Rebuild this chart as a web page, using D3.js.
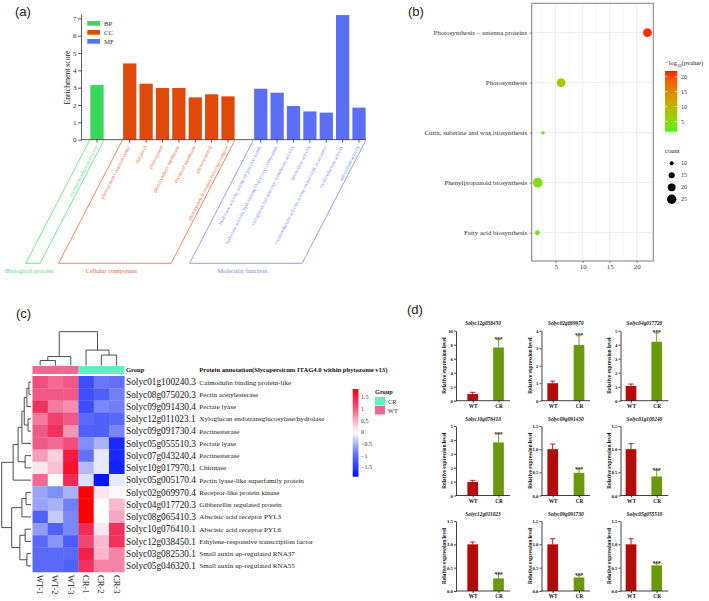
<!DOCTYPE html>
<html><head><meta charset="utf-8">
<script src="https://cdn.jsdelivr.net/npm/d3@7"></script>
<style>body{margin:0;background:#fff}svg{display:block}</style>
</head><body><svg id="fig" width="709" height="601"></svg>
<script>
// ================= DATA =================
// (a) GO enrichment
const goTerms = ["oxidation-reduction process",
 "photosystem I reaction center","thylakoid","photosystem","photosynthetic membrane","thylakoid membrane","photosystem II","photosystem II oxygen evolving complex",
 "hydrolase activity, acting on glycosyl bonds","hydrolase activity, hydrolyzing O-glycosyl compounds","xyloglucan:xyloglucosyl transferase activity","peroxidase activity","oxidoreductase activity, acting on peroxide as acceptor","oxidoreductase activity","antioxidant activity"];
const goCategory = ["BP","CC","CC","CC","CC","CC","CC","CC","MF","MF","MF","MF","MF","MF","MF"];
const goScore = [3.15,4.4,3.23,2.98,2.98,2.44,2.62,2.5,2.94,2.71,1.94,1.63,1.56,7.19,1.85];
const goCatKeys = ["BP","CC","MF"];
const goCatNames = ["Biological process","Cellular component","Molecular function"];
const goTicks = [0,1,2,3,4,5,6,7];

// (b) KEGG bubble
const keggTerms = ["Photosynthesis \u2013 antenna proteins","Photosynthesis","Cutin, suberine and wax biosynthesis","Phenylpropanoid biosynthesis","Fatty acid biosynthesis"];
const keggX = [22.0, 6.0, 2.65, 1.66, 1.6];
const keggLogP = [21.3, 7.0, 3.2, 4.5, 3.0];
const keggCount = [23, 23, 9, 26, 12];
const keggXTicks = [5,10,15,20];
const pvalTicks = [5,10,15,20];
const countTicks = [10,15,20,25];

// (c) heatmap
const geneIds = ["Solyc01g100240.3","Solyc08g075020.3","Solyc09g091430.4","Solyc12g011023.1","Solyc09g091730.4","Solyc05g055510.3","Solyc07g043240.4","Solyc10g017970.1","Solyc05g005170.4","Solyc02g069970.4","Solyc04g017720.3","Solyc08g065410.3","Solyc10g076410.1","Solyc12g038450.1","Solyc03g082530.1","Solyc05g046320.1"];
const geneAnno = ["Calmodulin binding protein-like","Pectin acetylesterase","Pectate lyase","Xyloglucan endotransglucosylase/hydrolase","Pectinesterase","Pectate lyase","Pectinesterase","Chitinase","Pectin lyase-like superfamily protein","Receptor-like protein kinase","Gibberellin regulated protein","Abscisic acid receptor PYL3","Abscisic acid receptor PYL6","Ethylene-responsive transcription factor","Small auxin up-regulated RNA37","Small auxin up-regulated RNA55"];
const sampleNames = ["WT-1","WT-2","WT-3","CR-1","CR-2","CR-3"];
const sampleGroup = ["WT","WT","WT","CR","CR","CR"];
const zScores = [
 [1.1, 0.9, 1.0, -1.3, -0.9, -0.95],
 [1.0, 1.0, 1.0, -1.3, -1.1, -0.85],
 [1.35, 0.8, 0.7, -1.3, -0.8, -0.85],
 [0.8, 1.2, 1.0, -1.0, -1.1, -1.0],
 [1.0, 1.35, 0.65, -1.1, -1.1, -0.8],
 [1.0, 0.9, 1.1, -0.75, -0.5, -1.65],
 [0.6, 0.3, 1.55, -0.95, -0.15, -1.65],
 [0.15, 0.4, 1.65, -0.45, -0.15, -1.7],
 [0.9, 0.0, 1.4, -0.2, -1.8, -0.15],
 [-0.6, -0.75, -0.5, 1.9, 0.15, 0.05],
 [-0.6, -0.5, -0.85, 1.85, 0.02, 0.45],
 [-1.1, -0.35, -0.8, 1.85, 0.0, 0.55],
 [-0.65, -1.1, -0.8, 1.4, 0.15, 1.35],
 [-1.0, -0.7, -1.15, 1.15, 0.45, 1.35],
 [-1.0, -1.0, -1.0, 1.5, 0.45, 0.75],
 [-1.0, -1.0, -1.1, 1.35, 0.75, 0.75]];
// dendrograms: [height, left, right]; leaves are indices
const rowTree = [10,
  [6.1, [4.4, [3.1, [2.3, [1.4, [0.7, 0, 1], 2], [1.0, 3, 4]], 5], [2.0, 6, 7]], 8],
  [6.6, [3.1, [1.7, 9, 10], 11], [3.8, [2.0, 12, 13], [1.4, 14, 15]]]];
const colTree = [6.8, [1.8, [1.0, 0, 1], 2], [3.1, 3, [2.1, 4, 5]]];
const heatTicks = [1.5, 1, 0.5, 0, -0.5, -1, -1.5];
const groupKeys = ["CR","WT"];

// (d) qRT-PCR
const qGenes = ["Solyc12g038450","Solyc02g069970","Solyc04g017720","Solyc10g076410","Solyc09g091430","Solyc01g100240","Solyc12g011023","Solyc09g091730","Solyc05g055510"];
const qGroups = ["WT","CR"];
const qWT = [0.95, 1.0, 1.05, 0.97, 1.0, 1.0, 1.0, 1.0, 1.0];
const qWTerr = [0.25, 0.12, 0.14, 0.12, 0.11, 0.12, 0.05, 0.12, 0.12];
const qCR = [7.6, 3.18, 4.21, 3.82, 0.49, 0.41, 0.27, 0.29, 0.55];
const qCRerr = [1.15, 0.53, 0.64, 0.6, 0.08, 0.13, 0.09, 0.04, 0.04];
const qTicks = [[0,2,4,6,8,10],[0,1,2,3,4],[0,1,2,3,4,5],[0,1,2,3,4,5],[0,0.5,1,1.5],[0,0.5,1,1.5],[0,0.5,1,1.5],[0,0.5,1,1.5],[0,0.5,1,1.5]];

// ================= DRAWING =================
const svg = d3.select("#fig");
const SERIF = "'Liberation Serif','Times New Roman',serif";
const SANS = "'Liberation Sans',Arial,sans-serif";
const defs = svg.append("defs");
svg.append("rect").attr("width",709).attr("height",601).attr("fill","#fff");

function panelLetter(t,x,y){ svg.append("text").attr("x",x).attr("y",y).text(t).attr("font-family",SANS).attr("font-size",13).attr("fill","#222"); }
panelLetter("(a)",15,16); panelLetter("(b)",408,16); panelLetter("(c)",16,318); panelLetter("(d)",407,314);

// ---------- (a)
const catFill = {BP:"#38d85a", CC:"#df4a0c", MF:"#5b6ff4"};
const catText = {BP:"#52e070", CC:"#e8683a", MF:"#7b88f2"};
const gA = svg.append("g");
const slots = [];
goTerms.forEach((t,i)=>{ if(i>0 && goCategory[i]!==goCategory[i-1]) slots.push("gap"+i); slots.push(t); });
const xA = d3.scaleBand().domain(slots).range([88.8,367.2]).paddingInner(0.19).paddingOuter(0.095);
const yA = d3.scaleLinear().domain([0,7.25]).range([139.67,139.67-7.25*17.33]);
gA.selectAll("rect.bar").data(goTerms).join("rect").attr("class","bar")
  .attr("x",d=>xA(d)).attr("width",xA.bandwidth())
  .attr("y",(d,i)=>yA(goScore[i])).attr("height",(d,i)=>yA(0)-yA(goScore[i]))
  .attr("fill",(d,i)=>catFill[goCategory[i]]);
const axAL = gA.append("g").attr("transform","translate(81,0)")
  .call(d3.axisLeft(yA).tickValues(goTicks).tickSize(3).tickSizeOuter(0).tickPadding(1.5));
const axAB = gA.append("g").attr("transform",`translate(0,${yA(0)})`)
  .call(d3.axisBottom(xA).tickValues(goTerms).tickSize(3).tickFormat(""));
axAB.select(".domain").attr("d","M81,0H366");
[axAL,axAB].forEach(a=>{a.selectAll("path,line").attr("stroke","#333").attr("stroke-width",0.8);
  a.selectAll("text").attr("font-family",SERIF).attr("font-size",7).attr("fill","#222");});
gA.append("text").attr("transform","translate(70,77.5) rotate(-90)").attr("text-anchor","middle")
  .attr("font-family",SERIF).attr("font-size",7.7).attr("fill","#222").text("Enrichment score");
// legend
goCatKeys.forEach((k,i)=>{
  gA.append("rect").attr("x",87.3).attr("y",21+i*9).attr("width",12.7).attr("height",4.7).attr("fill",catFill[k]);
  gA.append("text").attr("x",104).attr("y",25.8+i*9).attr("font-family",SERIF).attr("font-size",6.8).attr("fill","#333").text(k);
});
// rotated term labels
gA.selectAll("text.term").data(goTerms).join("text").attr("class","term")
  .attr("transform",d=>`translate(${xA(d)+xA.bandwidth()/2-1},146) rotate(-63)`)
  .attr("text-anchor","end").attr("dy","0.35em")
  .attr("font-family",SERIF).attr("font-size",5).attr("fill",(d,i)=>catText[goCategory[i]]).text(d=>d);
// category brackets
goCatKeys.forEach((k,ci)=>{
  const terms = goTerms.filter((t,i)=>goCategory[i]===k);
  const xl = xA(terms[0]) - 0.5, xr = xA(terms[terms.length-1]) + xA.bandwidth() + 0.5;
  const y0 = yA(0), y1 = 263.3, dx = 64;
  gA.append("path").attr("d",`M${xl},${y0}L${xl-dx},${y1}L${xr-dx},${y1}L${xr},${y0}`)
    .attr("fill","none").attr("stroke",catText[k]).attr("stroke-width",0.8);
  gA.append("text").attr("x",(xl+xr)/2-dx-3.5).attr("y",273).attr("text-anchor","middle")
    .attr("font-family",SERIF).attr("font-size",6.5).attr("fill",catText[k]).text(goCatNames[ci]);
});

// ---------- (b)
const gB = svg.append("g");
const xB = d3.scaleLinear().domain([0.55,23.08]).range([531.7,653.3]);
const yB = d3.scalePoint().domain(keggTerms).range([32.7,232.7]);
const pExt = [1.6,21.9];
const colB = d3.scaleLinear().domain(pExt).range(["#4cf01c","#ff1a00"]).interpolate(d3.interpolateLab);
const rB = d3.scaleSqrt().domain([10,25]).range([2,4.7]);
const minorB = keggXTicks.map(t=>t-2.5).concat([keggXTicks[keggXTicks.length-1]+2.5]);
gB.selectAll("line.mi").data(minorB).join("line").attr("x1",d=>xB(d)).attr("x2",d=>xB(d)).attr("y1",3.3).attr("y2",261)
  .attr("stroke","#eef1f3").attr("stroke-width",0.5);
gB.selectAll("line.ma").data(keggXTicks).join("line").attr("x1",d=>xB(d)).attr("x2",d=>xB(d)).attr("y1",3.3).attr("y2",261)
  .attr("stroke","#e3e8ec").attr("stroke-width",0.8);
gB.selectAll("line.hy").data(keggTerms).join("line").attr("x1",531.7).attr("x2",653.3).attr("y1",d=>yB(d)).attr("y2",d=>yB(d))
  .attr("stroke","#e3e8ec").attr("stroke-width",0.8);
gB.selectAll("circle").data(keggTerms).join("circle")
  .attr("cx",(d,i)=>xB(keggX[i])).attr("cy",d=>yB(d)).attr("r",(d,i)=>rB(keggCount[i]))
  .attr("fill",(d,i)=>colB(keggLogP[i]));
gB.append("rect").attr("x",531.7).attr("y",3.3).attr("width",121.6).attr("height",257.7)
  .attr("fill","none").attr("stroke","#8a8a8a").attr("stroke-width",1.1);
const axBL = gB.append("g").attr("transform","translate(531.7,0)").call(d3.axisLeft(yB).tickSize(2).tickSizeOuter(0).tickPadding(2.5));
const axBB = gB.append("g").attr("transform","translate(0,261)").call(d3.axisBottom(xB).tickValues(keggXTicks).tickSize(2).tickSizeOuter(0).tickPadding(1.5));
[axBL,axBB].forEach(a=>{a.select(".domain").remove(); a.selectAll("line").attr("stroke","#444").attr("stroke-width",0.6);
  a.selectAll("text").attr("font-family",SERIF).attr("font-size",6.9).attr("fill","#333");});
// colour legend
const gradB = defs.append("linearGradient").attr("id","gB").attr("x1",0).attr("y1",0).attr("x2",0).attr("y2",1);
d3.range(0,1.0001,0.05).forEach(t=>gradB.append("stop").attr("offset",t).attr("stop-color",colB(pExt[1]-t*(pExt[1]-pExt[0]))));
const cT = gB.append("text").attr("x",665).attr("y",65).attr("font-family",SERIF).attr("font-size",6.5).attr("fill","#222");
cT.append("tspan").text("\u2212log");
cT.append("tspan").attr("font-size",4.5).attr("dy",1.5).text("10");
cT.append("tspan").attr("dy",-1.5).text("(pvalue)");
gB.append("rect").attr("x",665).attr("y",71).attr("width",12.3).attr("height",60.7).attr("fill","url(#gB)");
const yCB = d3.scaleLinear().domain(pExt).range([131.7,71]);
gB.selectAll("text.pv").data(pvalTicks).join("text").attr("class","pv").attr("x",681).attr("y",d=>yCB(d)).attr("dy","0.35em")
  .attr("font-family",SERIF).attr("font-size",6).attr("fill","#333").text(d=>d);
gB.selectAll("line.pv").data(pvalTicks).join("line").attr("x1",665).attr("x2",667.5).attr("y1",d=>yCB(d)).attr("y2",d=>yCB(d)).attr("stroke","#fff").attr("stroke-width",0.6);
gB.selectAll("line.pv2").data(pvalTicks).join("line").attr("x1",674.8).attr("x2",677.3).attr("y1",d=>yCB(d)).attr("y2",d=>yCB(d)).attr("stroke","#fff").attr("stroke-width",0.6);
gB.append("text").attr("x",665).attr("y",153).attr("font-family",SERIF).attr("font-size",6.5).attr("fill","#222").text("count");
countTicks.forEach((c,i)=>{
  gB.append("circle").attr("cx",671.7).attr("cy",163.3+i*12).attr("r",rB(c)).attr("fill","#000");
  gB.append("text").attr("x",681).attr("y",163.3+i*12).attr("dy","0.35em").attr("font-family",SERIF).attr("font-size",6).attr("fill","#333").text(c);
});

// ---------- (c)
const gC = svg.append("g");
const heatColor = d3.scaleLinear().domain([-1.85,-1.5,-1,-0.5,0,0.5,1,1.5,1.85])
  .range(["#0010ff","#2a3cfc","#5a6af8","#aab2f8","#ffffff","#f8b0c8","#f05888","#f0204a","#ff0000"]).clamp(true);
const groupColor = {WT:"#f0688f", CR:"#5ff2c6"};
const xH = d3.scaleBand().domain(sampleNames).range([32.5,124.3]);
const yH = d3.scaleBand().domain(geneIds).range([376,572]);
geneIds.forEach((g,ri)=>{
  gC.selectAll(null).data(sampleNames).join("rect")
    .attr("x",d=>xH(d)).attr("y",yH(g)).attr("width",xH.bandwidth()+0.3).attr("height",yH.bandwidth()+0.3)
    .attr("fill",(d,ci)=>heatColor(zScores[ri][ci]));
});
gC.selectAll("rect.grp").data(sampleNames).join("rect").attr("class","grp")
  .attr("x",d=>xH(d)).attr("y",366).attr("width",xH.bandwidth()+0.3).attr("height",8)
  .attr("fill",(d,i)=>groupColor[sampleGroup[i]]);
gC.selectAll("text.gid").data(geneIds).join("text").attr("class","gid")
  .attr("x",126).attr("y",d=>yH(d)+yH.bandwidth()/2).attr("dy","0.35em")
  .attr("font-family",SERIF).attr("font-size",9.3).attr("fill","#111").text(d=>d);
gC.selectAll("text.ann").data(geneAnno).join("text").attr("class","ann")
  .attr("x",199.3).attr("y",(d,i)=>yH(geneIds[i])+yH.bandwidth()/2).attr("dy","0.35em")
  .attr("font-family",SERIF).attr("font-size",7.1).attr("fill","#222").text(d=>d);
gC.append("text").attr("x",126).attr("y",370).attr("dy","0.35em").attr("font-family",SERIF).attr("font-weight","bold").attr("font-size",6.5).attr("fill","#111").text("Group");
gC.append("text").attr("x",199.3).attr("y",370).attr("dy","0.35em").attr("font-family",SERIF).attr("font-weight","bold").attr("font-size",6.6).attr("fill","#111").text("Protein annotation(Slycopersicum ITAG4.0 within phytozome v13)");
gC.selectAll("text.smp").data(sampleNames).join("text").attr("class","smp")
  .attr("transform",d=>`translate(${xH(d)+xH.bandwidth()/2},575) rotate(90)`).attr("dy","0.35em")
  .attr("font-family",SERIF).attr("font-size",8.5).attr("fill","#111").text(d=>d);
// dendrograms
function layoutTree(node,posOf){
  if(typeof node==="number") return {pos:posOf(node),h:0};
  const A = layoutTree(node[1],posOf), B = layoutTree(node[2],posOf);
  return {pos:(A.pos+B.pos)/2,h:node[0],kids:[A,B]};
}
function drawTree(g,n,xy){
  if(!n.kids) return;
  const [A,B] = n.kids;
  const p = [xy(A.pos,A.h),xy(A.pos,n.h),xy(B.pos,n.h),xy(B.pos,B.h)];
  g.append("path").attr("d","M"+p.map(q=>q.join(",")).join("L")).attr("fill","none").attr("stroke","#3a3a3a").attr("stroke-width",0.9);
  drawTree(g,A,xy); drawTree(g,B,xy);
}
const xRowT = d3.scaleLinear().domain([0,10]).range([31,1.7]);
drawTree(gC, layoutTree(rowTree, i=>yH(geneIds[i])+yH.bandwidth()/2), (pos,h)=>[xRowT(h),pos]);
const yColT = d3.scaleLinear().domain([0,6.8]).range([365.5,331.7]);
drawTree(gC, layoutTree(colTree, i=>xH(sampleNames[i])+xH.bandwidth()/2), (pos,h)=>[pos,yColT(h)]);
// colour legend
const yHL = d3.scaleLinear().domain([-1.9,1.85]).range([476.7,389]);
const gradC = defs.append("linearGradient").attr("id","gC").attr("x1",0).attr("y1",0).attr("x2",0).attr("y2",1);
d3.range(0,1.0001,0.05).forEach(t=>gradC.append("stop").attr("offset",t).attr("stop-color",heatColor(yHL.invert(389+t*87.7))));
gC.append("rect").attr("x",352.7).attr("y",389).attr("width",5.8).attr("height",87.7).attr("fill","url(#gC)");
gC.selectAll("text.ht").data(heatTicks).join("text").attr("class","ht").attr("x",361).attr("y",d=>yHL(d)).attr("dy","0.35em")
  .attr("font-family",SERIF).attr("font-size",6).attr("fill","#333").text(d=>d<0?"\u2212"+Math.abs(d):d);
gC.append("text").attr("x",375).attr("y",392).attr("dy","0.35em").attr("font-family",SERIF).attr("font-weight","bold").attr("font-size",6.3).attr("fill","#111").text("Group");
groupKeys.forEach((k,i)=>{
  gC.append("rect").attr("x",375).attr("y",397+i*9).attr("width",10).attr("height",8.5).attr("fill",groupColor[k]);
  gC.append("text").attr("x",388).attr("y",401.3+i*9).attr("dy","0.35em").attr("font-family",SERIF).attr("font-size",6.3).attr("fill","#222").text(k);
});

// ---------- (d)
const gD = svg.append("g");
const colAxisX = [456, 541.5, 620.5], colWT = [472.7, 552.7, 631], colCR = [498.5, 579, 656.7], colEnd = [510, 590, 668.3];
const rowTop = [330.7, 426, 521], rowBot = [400.7, 495.5, 591];
const qFill = {WT:"#b30a0a", CR:"#6b990c"};
qGenes.forEach((gene,i)=>{
  const r = Math.floor(i/3), c = i%3;
  const g = gD.append("g");
  const ticks = qTicks[i];
  const y = d3.scaleLinear().domain([0,ticks[ticks.length-1]]).range([rowBot[r],rowTop[r]]);
  const x = d3.scalePoint().domain(qGroups).range([colWT[c],colCR[c]]);
  const vals = {WT:qWT[i], CR:qCR[i]}, errs = {WT:qWTerr[i], CR:qCRerr[i]};
  const bw = 10.7;
  g.selectAll("rect").data(qGroups).join("rect")
    .attr("x",d=>x(d)-bw/2).attr("width",bw).attr("y",d=>y(vals[d])).attr("height",d=>y(0)-y(vals[d]))
    .attr("fill",d=>qFill[d]);
  qGroups.forEach(d=>{
    const yt = y(vals[d]+errs[d]);
    g.append("path").attr("d",`M${x(d)},${y(vals[d])}V${yt}M${x(d)-2.6},${yt}H${x(d)+2.6}`)
      .attr("stroke",qFill[d]).attr("stroke-width",0.9).attr("fill","none");
  });
  g.append("text").attr("x",x("CR")).attr("y",y(vals.CR+errs.CR)+1.6).attr("text-anchor","middle")
    .attr("font-family",SERIF).attr("font-weight","bold").attr("font-size",5.5).attr("fill","#222").text("***");
  const isFrac = ticks.some(t=>t%1!==0);
  const ay = g.append("g").attr("transform",`translate(${colAxisX[c]},0)`)
    .call(d3.axisLeft(y).tickValues(ticks).tickSize(2).tickSizeOuter(0).tickPadding(1).tickFormat(d3.format(isFrac?".1f":"d")));
  const ax = g.append("g").attr("transform",`translate(0,${rowBot[r]})`)
    .call(d3.axisBottom(x).tickSize(2).tickSizeOuter(0).tickPadding(1.5));
  ax.select(".domain").attr("d",`M${colAxisX[c]},0H${colEnd[c]}`);
  [ay,ax].forEach(a=>{a.selectAll("path,line").attr("stroke","#111").attr("stroke-width",0.8);
    a.selectAll("text").attr("font-family",SERIF).attr("font-weight","bold").attr("font-size",4.8).attr("fill","#111");});
  ax.selectAll("text").attr("font-size",5.3);
  g.append("text").attr("transform",`translate(${colAxisX[c]-10},${(rowTop[r]+rowBot[r])/2}) rotate(-90)`).attr("text-anchor","middle")
    .attr("font-family",SERIF).attr("font-weight","bold").attr("font-size",5.4).attr("fill","#111").text("Relative expression level");
  g.append("text").attr("x",(colAxisX[c]+colEnd[c])/2).attr("y",rowTop[r]-5.5).attr("text-anchor","middle")
    .attr("font-family",SERIF).attr("font-weight","bold").attr("font-style","italic").attr("font-size",5.3).attr("fill","#111").text(gene);
});
</script></body></html>
